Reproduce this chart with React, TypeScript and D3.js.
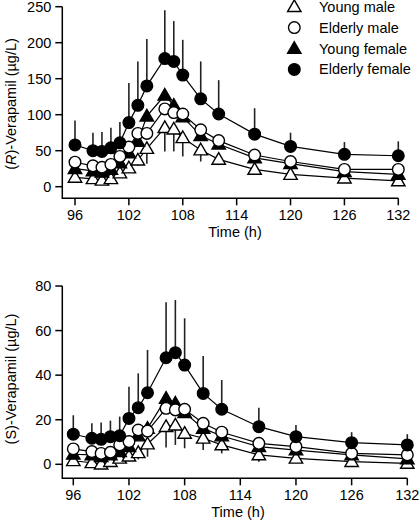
import React from "react";
import * as d3 from "d3";

const times = [96, 98, 99, 100, 101, 102, 103, 104, 106, 107, 108, 110, 112, 116, 120, 126, 132];
const timeTicks = [96, 102, 108, 114, 120, 126, 132];
const rTicks = [0, 50, 100, 150, 200, 250];
const sTicks = [0, 20, 40, 60, 80];

const seriesNames = ["Young male", "Elderly male", "Young female", "Elderly female"];

// (R)-Verapamil
const rYoungMale = [13, 11, 9, 11, 19, 26, 37, 53, 82, 80, 68, 51, 38, 24, 17, 12, 8];
const rElderlyMale = [34, 29, 27, 31, 42, 55, 74, 74, 108, 103, 101, 79, 64, 44, 35, 24, 24];
const rYoungFemale = [25, 22, 20, 24, 33, 47, 63, 98, 127, 113, 97, 71, 59, 40, 32, 21, 17];
const rElderlyFemale = [58, 50, 49, 54, 61, 89, 113, 140, 178, 174, 155, 122, 101, 73, 56, 45, 43];
const rElderlyFemaleSD = [34, 25, 27, 28, 29, 55, 61, 65, 67, 56, 49, 52, 47, 36, 19, 17, 20];
const rYoungMaleSD = [4, 4, 4, 4, 5, 7, 8, 21, 33, 31, 26, 16, 8, 6, 4, 3, 3];

// (S)-Verapamil
const sYoungMale = [1.6, 0.7, 0.1, 1.2, 2.7, 3.7, 5.2, 9.1, 16.9, 17.6, 13.9, 11.7, 8.7, 4.2, 2.7, 1.2, 0.4];
const sElderlyMale = [6.9, 5.7, 4.9, 5.4, 8.7, 10.2, 15.4, 14.9, 25.1, 24.4, 24.7, 18.4, 14.4, 9.4, 7.9, 4.9, 4.2];
const sYoungFemale = [4.5, 4.2, 3.4, 4.2, 5.7, 7.9, 12.7, 16.1, 29.6, 27.4, 23.2, 16.1, 12.7, 7.9, 6.4, 4.2, 2.4];
const sElderlyFemale = [13.5, 11.7, 11.2, 12.4, 12.8, 20.6, 25.4, 32.1, 47.8, 50.1, 44.5, 31.8, 24.7, 16.9, 12.4, 9.7, 8.7];
const sElderlyFemaleSD = [8.5, 6.7, 7.6, 7.2, 8.6, 14.2, 15.4, 19.2, 24.9, 23.6, 21.0, 16.8, 13.1, 8.5, 5.2, 4.7, 4.8];
const sYoungMaleSD = [1, 1, 1, 1, 1.5, 2, 3, 5.7, 9.4, 8.9, 6.7, 5.3, 3.8, 3, 2, 1, 1];

const FONT = "'Liberation Sans', Arial, Helvetica, sans-serif";
const FS = 14.5;

type Shape = { kind: "triangle" | "circle"; fill: string };
const shapes: Shape[] = [
  { kind: "triangle", fill: "#fff" },
  { kind: "circle", fill: "#fff" },
  { kind: "triangle", fill: "#000" },
  { kind: "circle", fill: "#000" },
];

function Marker({ x, y, shape }: { x: number; y: number; shape: Shape }) {
  if (shape.kind === "circle") {
    return <circle cx={x} cy={y} r={5.8} fill={shape.fill} stroke="#000" strokeWidth={1.4} />;
  }
  const path = d3.symbol().type(d3.symbolTriangle).size(78)() as string;
  return (
    <path d={path} transform={`translate(${x},${y + 1})`} fill={shape.fill} stroke="#000" strokeWidth={1.4} strokeLinejoin="miter" />
  );
}

type PanelProps = {
  series: number[][];
  upSD: number[];
  downSD: number[];
  yTicks: number[];
  yMax: number;
  yTop: number;
  yZero: number;
  axisY: number;
  x96: number;
  x132: number;
  yLabel: React.ReactNode;
  yLabelCy: number;
  xLabelCx: number;
  legend?: boolean;
};

function Panel(p: PanelProps) {
  const axisX = 62.3;
  const x = d3.scaleLinear().domain([96, 132]).range([p.x96, p.x132]);
  const y = d3.scaleLinear().domain([0, p.yMax]).range([p.yZero, p.yTop]);
  const line = d3
    .line<number>()
    .x((_, i) => x(times[i]))
    .y((v) => y(v));
  const order = [0, 2, 1, 3];
  const top = p.series[3];
  const bottom = p.series[0];
  return (
    <g>
      {/* axes */}
      <path
        d={`M${axisX},${p.yTop}V${p.axisY}H${p.x132}`}
        fill="none"
        stroke="#000"
        strokeWidth={1.5}
      />
      {p.yTicks.map((t) => (
        <g key={"y" + t}>
          <line x1={axisX - 7} x2={axisX} y1={y(t)} y2={y(t)} stroke="#000" strokeWidth={1.5} />
          <text x={axisX - 11} y={y(t)} dy="0.35em" textAnchor="end" fontFamily={FONT} fontSize={FS}>
            {t}
          </text>
        </g>
      ))}
      {timeTicks.map((t) => (
        <g key={"x" + t}>
          <line x1={x(t)} x2={x(t)} y1={p.axisY} y2={p.axisY + 7} stroke="#000" strokeWidth={1.5} />
          <text x={x(t)} y={p.axisY + 17} dy="0.35em" textAnchor="middle" fontFamily={FONT} fontSize={FS}>
            {t}
          </text>
        </g>
      ))}
      <text x={p.xLabelCx} y={p.axisY + 34} dy="0.35em" textAnchor="middle" fontFamily={FONT} fontSize={FS}>
        Time (h)
      </text>
      <text
        transform={`translate(11,${p.yLabelCy}) rotate(-90)`}
        dy="0.35em"
        textAnchor="middle"
        fontFamily={FONT}
        fontSize={FS}
      >
        {p.yLabel}
      </text>
      {/* error bars */}
      {times.map((t, i) => (
        <g key={"e" + t}>
          <line x1={x(t)} x2={x(t)} y1={y(top[i])} y2={y(top[i] + p.upSD[i])} stroke="#222" strokeWidth={1.6} />
          <line x1={x(t)} x2={x(t)} y1={y(bottom[i])} y2={y(bottom[i] - p.downSD[i])} stroke="#222" strokeWidth={1.6} />
        </g>
      ))}
      {/* lines */}
      {order.map((s) => (
        <path key={"l" + s} d={line(p.series[s]) as string} fill="none" stroke="#000" strokeWidth={1.2} />
      ))}
      {/* markers */}
      {order.map((s) => (
        <g key={"m" + s}>
          {p.series[s].map((v, i) => (
            <Marker key={i} x={x(times[i])} y={y(v)} shape={shapes[s]} />
          ))}
        </g>
      ))}
      {p.legend &&
        seriesNames.map((name, i) => {
          const ly = 6.7 + i * 20.9;
          return (
            <g key={name}>
              <Marker x={294.3} y={ly} shape={shapes[i]} />
              <text x={319} y={ly} dy="0.35em" fontFamily={FONT} fontSize={FS}>
                {name}
              </text>
            </g>
          );
        })}
    </g>
  );
}

export default function App() {
  return (
    <svg
      width={419}
      height={527}
      style={{ position: "absolute", left: 0, top: 0, background: "#fff" }}
    >
      <rect width={419} height={527} fill="#fff" />
      <Panel
        series={[rYoungMale, rElderlyMale, rYoungFemale, rElderlyFemale]}
        upSD={rElderlyFemaleSD}
        downSD={rYoungMaleSD}
        yTicks={rTicks}
        yMax={250}
        yTop={6.7}
        yZero={186.7}
        axisY={198.3}
        x96={75}
        x132={398.3}
        yLabel={
          <>
            (<tspan fontStyle="italic">R</tspan>)-Verapamil (µg/L)
          </>
        }
        yLabelCy={104}
        xLabelCx={235}
        legend
      />
      <Panel
        series={[sYoungMale, sElderlyMale, sYoungFemale, sElderlyFemale]}
        upSD={sElderlyFemaleSD}
        downSD={sYoungMaleSD}
        yTicks={sTicks}
        yMax={80}
        yTop={286}
        yZero={464.3}
        axisY={478.3}
        x96={73.3}
        x132={407.3}
        yLabel="(S)-Verapamil (µg/L)"
        yLabelCy={379}
        xLabelCx={238}
      />
    </svg>
  );
}
